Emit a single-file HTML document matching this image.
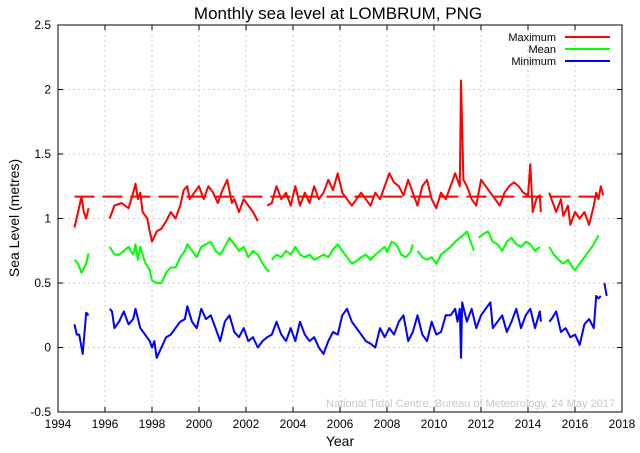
<!DOCTYPE html>
<html><head><meta charset="utf-8"><style>
body{margin:0;background:#fff}
svg{display:block;font-family:"Liberation Sans",Arial,sans-serif}
</style></head><body>
<svg id="chart" width="640" height="453" viewBox="0 0 640 453">
<text x="338" y="19" font-size="17" text-anchor="middle">Monthly sea level at LOMBRUM, PNG</text>
<g id="grid"></g><g id="ticks"></g><g id="series"></g>
<rect x="58" y="25" width="564" height="387" fill="none" stroke="#000" stroke-width="1"/>
<text x="340" y="446" font-size="14" text-anchor="middle">Year</text>
<text transform="translate(19,218) rotate(-90)" font-size="14" text-anchor="middle">Sea Level (metres)</text>
<text x="615" y="407" font-size="11" fill="#c8c8c8" text-anchor="end">National Tidal Centre, Bureau of Meteorology, 24 May 2017</text>
<g>
<text x="556" y="41" font-size="11" text-anchor="end">Maximum</text>
<line x1="565" y1="37" x2="610" y2="37" stroke="#f00" stroke-width="2"/>
<text x="556" y="53" font-size="11" text-anchor="end">Mean</text>
<line x1="565" y1="49" x2="610" y2="49" stroke="#0f0" stroke-width="2"/>
<text x="556" y="65" font-size="11" text-anchor="end">Minimum</text>
<line x1="565" y1="61" x2="610" y2="61" stroke="#00f" stroke-width="2"/>
</g>
</svg>
<script>
const xTicks=[1994,1996,1998,2000,2002,2004,2006,2008,2010,2012,2014,2016,2018];
const yTicks=[-0.5,0,0.5,1,1.5,2,2.5];
const yTickLabels=["-0.5","0","0.5","1","1.5","2","2.5"];
const maxMean=1.17;
const maxT=[1994.7,1994.85,1995.0,1995.1,1995.2,1995.3,null,1996.2,1996.4,1996.7,1997.0,1997.2,1997.3,1997.4,1997.5,1997.6,1997.8,1997.9,1998.0,1998.2,1998.4,1998.6,1998.8,1999.0,1999.2,1999.35,1999.5,1999.6,1999.8,2000.0,2000.2,2000.4,2000.6,2000.8,2001.0,2001.2,2001.4,2001.5,2001.7,2001.9,2002.1,2002.3,2002.5,null,2002.9,2003.1,2003.3,2003.5,2003.7,2003.9,2004.1,2004.3,2004.5,2004.7,2004.9,2005.1,2005.3,2005.5,2005.7,2005.9,2006.1,2006.3,2006.5,2006.7,2006.9,2007.1,2007.3,2007.5,2007.7,2007.9,2008.1,2008.3,2008.5,2008.7,2008.9,2009.1,2009.3,2009.5,2009.7,2009.9,2010.1,2010.3,2010.5,2010.7,2010.9,2011.0,2011.1,2011.15,2011.25,2011.4,2011.6,2011.8,2012.0,2012.2,2012.4,2012.6,2012.8,2013.0,2013.2,2013.4,2013.6,2013.8,2014.0,2014.1,2014.2,2014.35,2014.5,2014.55,null,2014.9,2015.0,2015.2,2015.4,2015.5,2015.7,2015.8,2016.0,2016.2,2016.4,2016.6,2016.8,2016.9,2017.0,2017.1,2017.2];
const maxV=[0.93,1.05,1.17,1.05,1.0,1.08,null,1.0,1.1,1.12,1.08,1.2,1.27,1.15,1.2,1.05,1.0,0.9,0.82,0.9,0.92,0.98,1.05,1.0,1.1,1.22,1.25,1.15,1.2,1.25,1.15,1.25,1.2,1.12,1.22,1.3,1.12,1.15,1.05,1.15,1.1,1.05,0.98,null,1.1,1.12,1.25,1.15,1.2,1.1,1.25,1.1,1.2,1.12,1.25,1.15,1.2,1.3,1.22,1.35,1.2,1.15,1.1,1.15,1.2,1.15,1.1,1.2,1.15,1.25,1.35,1.28,1.25,1.18,1.3,1.2,1.1,1.25,1.3,1.15,1.08,1.2,1.15,1.25,1.35,1.3,1.25,2.07,1.3,1.25,1.15,1.1,1.3,1.25,1.2,1.15,1.1,1.2,1.25,1.28,1.25,1.2,1.18,1.42,1.05,1.15,1.18,1.05,null,1.2,1.15,1.05,1.15,1.02,1.1,0.95,1.05,1.0,1.05,0.95,1.1,1.2,1.15,1.25,1.18];
const meanT=[1994.7,1994.85,1995.0,1995.2,1995.3,null,1996.2,1996.4,1996.6,1996.8,1997.0,1997.2,1997.3,1997.4,1997.5,1997.7,1997.9,1998.0,1998.2,1998.4,1998.6,1998.8,1999.0,1999.2,1999.4,1999.5,1999.7,1999.9,2000.1,2000.3,2000.5,2000.7,2000.9,2001.1,2001.3,2001.5,2001.7,2001.9,2002.1,2002.3,2002.5,2002.7,2002.9,2003.0,null,2003.1,2003.3,2003.5,2003.7,2003.9,2004.1,2004.3,2004.5,2004.7,2004.9,2005.1,2005.3,2005.5,2005.7,2005.9,2006.1,2006.3,2006.5,2006.7,2006.9,2007.1,2007.3,2007.5,2007.7,2007.9,2008.0,2008.2,2008.4,2008.6,2008.8,2009.0,2009.1,null,2009.3,2009.5,2009.7,2009.9,2010.1,2010.3,2010.5,2010.7,2010.9,2011.1,2011.3,2011.4,2011.6,2011.7,null,2011.9,2012.1,2012.3,2012.5,2012.7,2012.9,2013.1,2013.3,2013.5,2013.7,2013.9,2014.1,2014.3,2014.5,null,2014.9,2015.1,2015.3,2015.5,2015.7,2015.9,2016.0,2016.2,2016.4,2016.6,2016.8,2017.0];
const meanV=[0.68,0.65,0.58,0.65,0.73,null,0.78,0.72,0.72,0.75,0.78,0.72,0.8,0.68,0.78,0.66,0.6,0.52,0.5,0.5,0.58,0.62,0.62,0.7,0.75,0.8,0.75,0.7,0.78,0.8,0.82,0.75,0.72,0.78,0.85,0.8,0.75,0.78,0.7,0.75,0.72,0.65,0.6,0.59,null,0.68,0.72,0.7,0.75,0.72,0.78,0.72,0.7,0.72,0.68,0.7,0.72,0.7,0.76,0.8,0.75,0.7,0.65,0.67,0.7,0.72,0.68,0.72,0.75,0.78,0.74,0.82,0.8,0.72,0.7,0.74,0.8,null,0.75,0.7,0.68,0.7,0.65,0.72,0.75,0.78,0.82,0.85,0.88,0.9,0.8,0.75,null,0.85,0.88,0.9,0.82,0.8,0.75,0.82,0.85,0.8,0.78,0.82,0.8,0.75,0.78,null,0.78,0.72,0.68,0.65,0.68,0.62,0.6,0.65,0.7,0.75,0.8,0.87];
const minT=[1994.7,1994.8,1994.9,1995.0,1995.05,1995.2,1995.3,null,1996.2,1996.3,1996.4,1996.6,1996.8,1997.0,1997.2,1997.3,1997.5,1997.7,1997.9,1998.0,1998.1,1998.2,1998.4,1998.6,1998.8,1999.0,1999.2,1999.4,1999.5,1999.7,1999.9,2000.1,2000.3,2000.5,2000.7,2000.9,2001.1,2001.3,2001.5,2001.7,2001.9,2002.1,2002.3,2002.5,2002.7,2002.9,2003.1,2003.3,2003.5,2003.7,2003.9,2004.1,2004.3,2004.5,2004.7,2004.9,2005.1,2005.3,2005.5,2005.7,2005.9,2006.1,2006.3,2006.5,2006.7,2006.9,2007.1,2007.3,2007.5,2007.7,2007.9,2008.1,2008.3,2008.5,2008.7,2008.9,2009.1,2009.3,2009.5,2009.7,2009.9,2010.1,2010.3,2010.5,2010.7,2010.9,2011.0,2011.1,2011.15,2011.2,2011.4,2011.6,2011.8,2012.0,2012.2,2012.4,2012.5,2012.7,2012.9,2013.1,2013.3,2013.5,2013.7,2013.9,2014.1,2014.3,2014.5,2014.55,null,2014.9,2015.0,2015.2,2015.4,2015.6,2015.8,2016.0,2016.2,2016.4,2016.6,2016.8,2016.9,2017.0,2017.1,null,2017.25,2017.35];
const minV=[0.18,0.1,0.1,0.0,-0.05,0.27,0.25,null,0.3,0.28,0.15,0.2,0.28,0.18,0.22,0.3,0.15,0.1,0.05,0.0,0.05,-0.08,0.0,0.08,0.1,0.15,0.2,0.22,0.32,0.2,0.15,0.3,0.22,0.25,0.15,0.05,0.2,0.25,0.12,0.08,0.15,0.05,0.08,0.0,0.05,0.08,0.1,0.2,0.1,0.05,0.15,0.05,0.2,0.1,0.05,0.08,0.0,-0.05,0.05,0.12,0.1,0.25,0.3,0.2,0.15,0.1,0.05,0.03,0.0,0.15,0.08,0.15,0.1,0.2,0.25,0.05,0.12,0.25,0.1,0.05,0.2,0.1,0.12,0.25,0.25,0.3,0.2,0.3,-0.08,0.35,0.2,0.3,0.15,0.25,0.3,0.35,0.15,0.2,0.25,0.12,0.2,0.3,0.15,0.25,0.3,0.15,0.28,0.2,null,0.2,0.22,0.28,0.12,0.15,0.08,0.1,0.02,0.18,0.22,0.15,0.4,0.38,0.4,null,0.5,0.4];

const NS="http://www.w3.org/2000/svg";
const L=58,R=622,T=25,B=412;
function xs(t){return L+(t-1994)/(2018-1994)*(R-L);}
function ys(v){return B-(v+0.5)/3*(B-T);}
const grid=document.getElementById('grid'),ticks=document.getElementById('ticks'),ser=document.getElementById('series');
xTicks.forEach(t=>{
  const x=xs(t);
  const g=document.createElementNS(NS,'line');
  
  
  g.setAttribute('x1',x);g.setAttribute('x2',x);g.setAttribute('y1',T);g.setAttribute('y2',B);
  g.setAttribute('stroke','#ccc');g.setAttribute('stroke-dasharray','2,3');grid.appendChild(g);
  const tx=document.createElementNS(NS,'text');
  
  
  tx.setAttribute('x',x);tx.setAttribute('y',428);tx.setAttribute('font-size','12');tx.setAttribute('text-anchor','middle');
  tx.textContent=t;ticks.appendChild(tx);
  [[B,B-5],[T,T+5]].forEach(p=>{const m=document.createElementNS(NS,'line');m.setAttribute('x1',x);m.setAttribute('x2',x);m.setAttribute('y1',p[0]);m.setAttribute('y2',p[1]);m.setAttribute('stroke','#000');ticks.appendChild(m);});
});
yTicks.forEach((v,i)=>{
  const y=ys(v);
  const g=document.createElementNS(NS,'line');
  
  
  g.setAttribute('x1',L);g.setAttribute('x2',R);g.setAttribute('y1',y);g.setAttribute('y2',y);
  g.setAttribute('stroke','#ccc');g.setAttribute('stroke-dasharray','2,3');grid.appendChild(g);
  const tx=document.createElementNS(NS,'text');
  
  
  tx.setAttribute('x',51);tx.setAttribute('y',y+4);tx.setAttribute('font-size','12');tx.setAttribute('text-anchor','end');
  tx.textContent=yTickLabels[i];ticks.appendChild(tx);
  [[L,L+5],[R,R-5]].forEach(p=>{const m=document.createElementNS(NS,'line');m.setAttribute('x1',p[0]);m.setAttribute('x2',p[1]);m.setAttribute('y1',y);m.setAttribute('y2',y);m.setAttribute('stroke','#000');ticks.appendChild(m);});
});
function pathD(ts,vs){let d='',pen=false;for(let i=0;i<ts.length;i++){if(ts[i]===null||vs[i]===null){pen=false;continue;}d+=(pen?'L':'M')+xs(ts[i]).toFixed(1)+','+ys(vs[i]).toFixed(1);pen=true;}return d;}
const ml=document.createElementNS(NS,'line');


ml.setAttribute('x1',xs(1994.7));ml.setAttribute('x2',xs(2017.3));ml.setAttribute('y1',ys(maxMean));ml.setAttribute('y2',ys(maxMean));
ml.setAttribute('stroke','#f00');ml.setAttribute('stroke-width','2');ml.setAttribute('stroke-dasharray','20,8');ser.appendChild(ml);
[['maximum-series',maxT,maxV,'#f00'],['mean-series',meanT,meanV,'#0f0'],['minimum-series',minT,minV,'#00f']].forEach(s=>{
  const p=document.createElementNS(NS,'path');
  
  
  p.setAttribute('d',pathD(s[1],s[2]));p.setAttribute('fill','none');p.setAttribute('stroke',s[3]);p.setAttribute('stroke-width','2');p.setAttribute('stroke-linejoin','round');
  ser.appendChild(p);
});
</script>
</body></html>
